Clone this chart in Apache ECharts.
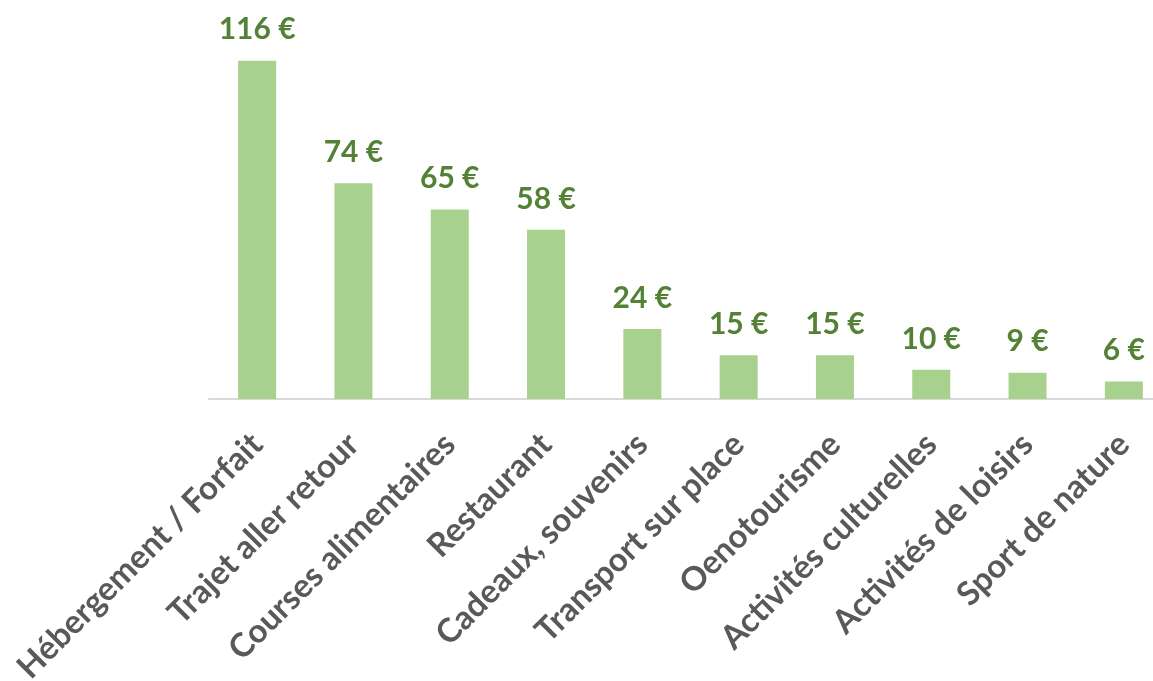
<!DOCTYPE html>
<html>
<head>
  <meta charset="UTF-8">
  <title>Dépenses moyennes</title>
  <style>
    html, body { margin: 0; padding: 0; background: #ffffff; overflow: hidden; }
    #chart { width: 1153px; height: 681px; }
  </style>
  <script src="https://cdn.jsdelivr.net/npm/echarts@6/dist/echarts.min.js"></script>
</head>
<body>
<div id="chart"></div>
<script>
  var categories = ['Hébergement / Forfait', 'Trajet aller retour', 'Courses alimentaires', 'Restaurant',
    'Cadeaux, souvenirs', 'Transport sur place', 'Oenotourisme', 'Activités culturelles',
    'Activités de loisirs', 'Sport de nature'];
  var montants = [116, 74, 65, 58, 24, 15, 15, 10, 9, 6];

  var myChart = echarts.init(document.getElementById('chart'));

  var option = {
    animation: false,
    // la grille déborde un peu à droite, comme dans l'original
    grid: { left: 209, width: 963, top: 49, height: 350, outerBoundsMode: 'none' },
    xAxis: {
      type: 'category',
      data: categories,
      axisLine: { lineStyle: { color: '#d9d9d9', width: 2 } },
      axisTick: { show: false },
      axisLabel: {
        interval: 0,
        rotate: 45,
        margin: 40,
        color: '#595959',
        fontFamily: 'Lato',
        fontWeight: 'bold',
        fontSize: 33
      }
    },
    yAxis: {
      type: 'value',
      min: 0,
      max: 120,
      show: false,
      splitLine: { show: false }
    },
    series: [{
      type: 'bar',
      data: montants,
      barWidth: 38,
      itemStyle: { color: '#a9d18e' },
      label: {
        show: true,
        position: 'top',
        distance: 16,
        formatter: '{c} €',
        color: '#538135',
        fontFamily: 'Lato',
        fontWeight: 'bold',
        fontSize: 30
      }
    }]
  };

  myChart.setOption(option);
</script>
</body>
</html>
